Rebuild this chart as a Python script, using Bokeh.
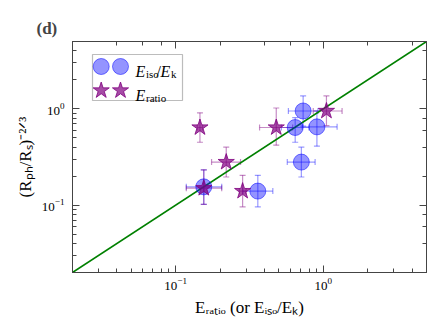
import math
from bokeh.plotting import figure
from bokeh.models import (Range1d, LogAxis, LogTicker, Label, BoxAnnotation, Whisker,
                          TeeHead, ColumnDataSource)
from bokeh.embed import file_html
from bokeh.resources import INLINE

# ---- data ----
# blue circles: E_iso / E_k
x_iso = [0.155, 0.36, 0.645, 0.73, 0.905, 0.71]
y_iso = [0.155, 0.14, 0.64, 0.95, 0.65, 0.28]
x_iso_lo = [0.118, 0.285, 0.52, 0.58, 0.72, 0.57]
x_iso_hi = [0.205, 0.455, 0.80, 0.92, 1.24, 0.88]
y_iso_lo = [0.102, 0.096, 0.45, 0.66, 0.41, 0.196]
y_iso_hi = [0.233, 0.204, 0.81, 1.36, 0.95, 0.40]

# purple stars: E_ratio
x_rat = [0.146, 0.22, 0.155, 0.284, 0.48, 1.05]
y_rat = [0.64, 0.28, 0.15, 0.14, 0.64, 0.95]
x_rat_lo = [0.14, 0.175, 0.118, 0.27, 0.37, 0.855]
x_rat_hi = [0.152, 0.275, 0.205, 0.30, 0.62, 1.34]
y_rat_lo = [0.45, 0.196, 0.102, 0.096, 0.42, 0.67]
y_rat_hi = [0.91, 0.40, 0.233, 0.204, 1.02, 1.36]

# one-to-one line
diag = [0.02, 5.0]

X_RANGE = (0.02, 5.0)
Y_RANGE = (0.02, 5.0)

# axis labels (sub/superscripts as Unicode characters)
X_LABEL = "E\u1d63\u2090\u209c\u1d62\u2092 (or E\u1d62\u209b\u2092/E\u2096)"
Y_LABEL = "(R\u209a\u2095/R\u209b)\u207b\u00b2\u141f\u00b3"

# ---- layout constants (page pixels) ----
FL, FR, FT, FB = 72, 426, 41, 272   # frame left/right/top/bottom in page px
W, H = 440, 330
FONT = "Liberation Serif"
AX_COL = "#444444"

p = figure(width=W, height=H, x_axis_type="log", y_axis_type="log",
           x_range=Range1d(*X_RANGE), y_range=Range1d(*Y_RANGE),
           output_backend="svg", toolbar_location=None,
           min_border_left=FL, min_border_right=W - FR,
           min_border_top=FT, min_border_bottom=H - FB)
p.grid.visible = False
p.outline_line_color = AX_COL
p.background_fill_color = "white"
p.border_fill_color = "white"

# panel tag as the plot title
p.title.text = "(d)"
p.title.align = "left"
p.title.offset = -36
p.title.text_font = FONT
p.title.text_font_size = "17px"
p.title.text_font_style = "bold"
p.title.standoff = 8


def style_axis(ax, labels=True):
    ax.axis_line_color = AX_COL
    ax.major_tick_line_color = AX_COL
    ax.minor_tick_line_color = AX_COL
    ax.major_tick_in = 7
    ax.major_tick_out = 0
    ax.minor_tick_in = 4
    ax.minor_tick_out = 0
    ax.major_label_text_font = FONT
    ax.major_label_text_color = "black"
    ax.major_label_text_font_size = "13px"
    ax.axis_label_text_font = FONT
    ax.axis_label_text_color = "black"
    ax.axis_label_text_font_style = "normal"
    if not labels:
        ax.major_label_text_alpha = 0
        ax.major_label_text_font_size = "2px"
        ax.major_label_standoff = 0


style_axis(p.xaxis[0])
style_axis(p.yaxis[0])
p.xaxis[0].major_label_standoff = 5
p.yaxis[0].major_label_standoff = 8

p.xaxis[0].axis_label = X_LABEL
p.xaxis[0].axis_label_text_font_size = "17px"
p.xaxis[0].axis_label_standoff = 5

p.yaxis[0].axis_label = Y_LABEL
p.yaxis[0].axis_label_text_font_size = "17px"
p.yaxis[0].axis_label_standoff = 4

top = LogAxis(ticker=LogTicker())
style_axis(top, labels=False)
p.add_layout(top, "above")
right = LogAxis(ticker=LogTicker())
style_axis(right, labels=False)
p.add_layout(right, "right")

# ---- diagonal ----
p.line(diag, diag, line_color="#008000", line_width=1.6)

# ---- error bars ----
src_iso = ColumnDataSource(dict(x=x_iso, y=y_iso, xl=x_iso_lo, xh=x_iso_hi, yl=y_iso_lo, yh=y_iso_hi))
src_rat = ColumnDataSource(dict(x=x_rat, y=y_rat, xl=x_rat_lo, xh=x_rat_hi, yl=y_rat_lo, yh=y_rat_hi))

for src, col, a in ((src_iso, "blue", 0.4), (src_rat, "purple", 0.45)):
    for dim, base, lo, hi in (("height", "x", "yl", "yh"), ("width", "y", "xl", "xh")):
        w = Whisker(source=src, base=base, lower=lo, upper=hi, dimension=dim,
                    line_color=col, line_alpha=a, line_width=1.2,
                    upper_head=TeeHead(size=6, line_color=col, line_alpha=a, line_width=1.2),
                    lower_head=TeeHead(size=6, line_color=col, line_alpha=a, line_width=1.2))
        p.add_layout(w)

# ---- markers ----
p.scatter("x", "y", source=src_iso, marker="circle", size=16,
          fill_color="blue", fill_alpha=0.42, line_color="blue", line_alpha=0.5)
p.scatter("x", "y", source=src_rat, marker="star", size=17,
          fill_color="purple", fill_alpha=0.7, line_color="purple", line_alpha=0.8)


# ---- helpers for page-pixel placement (legend) ----
def data_x(px):
    lo, hi = math.log10(X_RANGE[0]), math.log10(X_RANGE[1])
    return 10 ** (lo + (px - FL) / (FR - FL) * (hi - lo))


def data_y(py):
    lo, hi = math.log10(Y_RANGE[0]), math.log10(Y_RANGE[1])
    return 10 ** (lo + (FB - py) / (FB - FT) * (hi - lo))


def put(text, px, py, size, style="normal"):
    p.add_layout(Label(x=px - FL, y=FB - py, x_units="screen", y_units="screen",
                       text=text, text_font=FONT, text_font_size=f"{size}px",
                       text_font_style=style, text_color="black",
                       text_align="left", text_baseline="alphabetic"))


# ---- legend ----
p.add_layout(BoxAnnotation(left=92 - FL, right=182 - FL, top=FB - 54, bottom=FB - 100,
                           left_units="screen", right_units="screen",
                           top_units="screen", bottom_units="screen",
                           fill_color="white", fill_alpha=1.0, line_color="#222222",
                           line_width=1.2, level="underlay"))
leg_x = [data_x(100.7), data_x(120.0)]
p.scatter(leg_x, [data_y(66)] * 2, marker="circle", size=16,
          fill_color="blue", fill_alpha=0.42, line_color="blue", line_alpha=0.5)
p.scatter(leg_x, [data_y(90)] * 2, marker="star", size=17,
          fill_color="purple", fill_alpha=0.7, line_color="purple", line_alpha=0.8)

put("E", 135, 70.5, 16, "italic")
put("iso", 145.5, 73.5, 11)
put("/", 156, 70.5, 16)
put("E", 160, 70.5, 16, "italic")
put("k", 170.5, 73.5, 11)
put("E", 135, 94.5, 16, "italic")
put("ratio", 145.5, 97.5, 11)

open("out.html", "w").write(file_html(p, INLINE))
